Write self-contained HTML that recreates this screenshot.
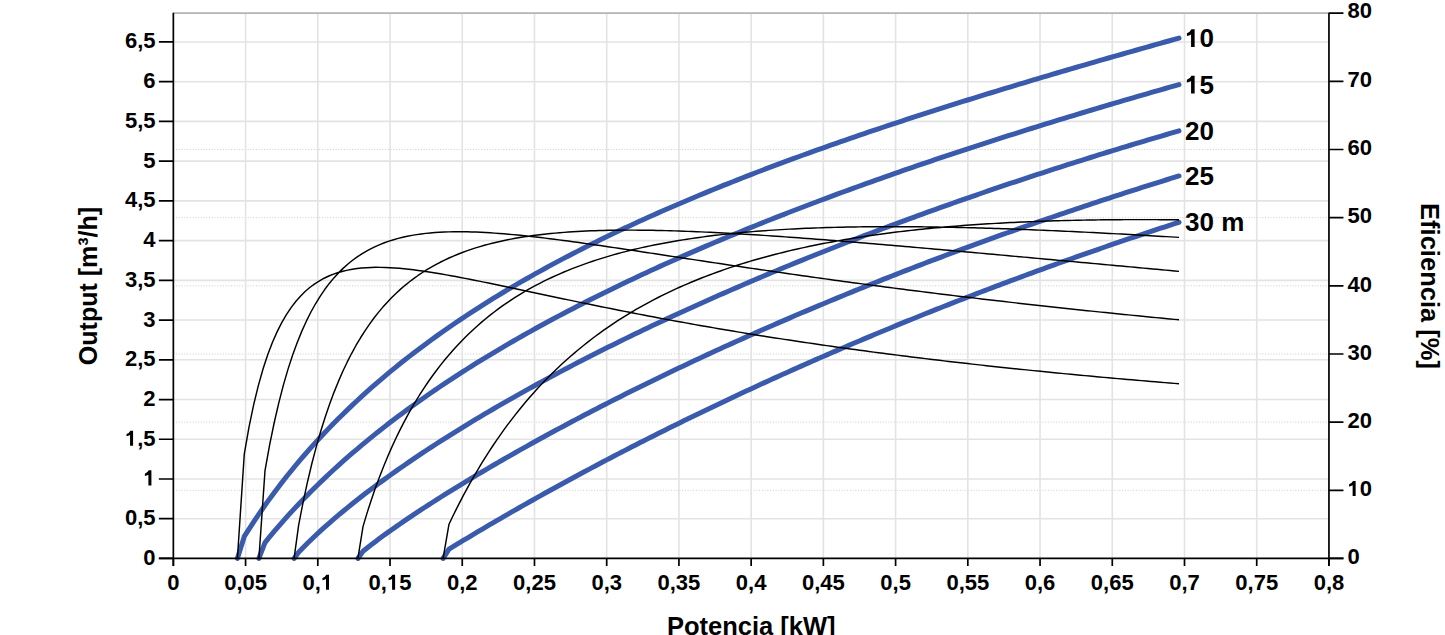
<!DOCTYPE html><html><head><meta charset="utf-8"><title>Chart</title><style>html,body{margin:0;padding:0;background:#fff;overflow:hidden}svg{display:block}</style></head><body>
<svg width="1445" height="635" viewBox="0 0 1445 635" font-family="Liberation Sans, sans-serif" font-weight="bold">
<rect width="1445" height="635" fill="#fff"/>
<path d="M173.35 490.29H1328.95M173.35 422.14H1328.95M173.35 353.98H1328.95M173.35 285.83H1328.95M173.35 217.67H1328.95M173.35 149.51H1328.95M173.35 81.36H1328.95" stroke="#cccccc" stroke-width="1" stroke-dasharray="1 1.75" fill="none"/>
<path d="M245.57 13.20V558.45M317.80 13.20V558.45M390.03 13.20V558.45M462.25 13.20V558.45M534.48 13.20V558.45M606.70 13.20V558.45M678.93 13.20V558.45M751.15 13.20V558.45M823.38 13.20V558.45M895.60 13.20V558.45M967.83 13.20V558.45M1040.05 13.20V558.45M1112.28 13.20V558.45M1184.50 13.20V558.45M1256.72 13.20V558.45" stroke="#e3e3e3" stroke-width="1.6" fill="none"/>
<path d="M173.35 518.72H1328.95M173.35 478.99H1328.95M173.35 439.26H1328.95M173.35 399.53H1328.95M173.35 359.80H1328.95M173.35 320.07H1328.95M173.35 280.34H1328.95M173.35 240.61H1328.95M173.35 200.88H1328.95M173.35 161.15H1328.95M173.35 121.42H1328.95M173.35 81.69H1328.95M173.35 41.96H1328.95" stroke="#e3e3e3" stroke-width="1.6" fill="none"/>
<path d="M173.35 13.20H1328.95" stroke="#b4b4b4" stroke-width="1.8"/>
<path d="M237.40 558.45 L244.30 536.46 L249.00 529.04 L253.69 521.84 L258.39 514.85 L263.09 508.04 L267.78 501.42 L272.48 494.98 L277.18 488.69 L281.88 482.56 L286.57 476.58 L291.27 470.74 L295.97 465.03 L300.66 459.45 L305.36 454.00 L310.06 448.66 L314.75 443.43 L319.45 438.31 L324.15 433.29 L328.85 428.37 L333.54 423.55 L338.24 418.82 L342.94 414.17 L347.63 409.61 L352.33 405.14 L357.03 400.74 L361.72 396.42 L366.42 392.17 L371.12 387.99 L375.82 383.88 L380.51 379.84 L385.21 375.86 L389.91 371.95 L394.60 368.10 L399.30 364.30 L404.00 360.56 L408.69 356.88 L413.39 353.25 L418.09 349.67 L422.79 346.14 L427.48 342.67 L432.18 339.24 L436.88 335.85 L441.57 332.52 L446.27 329.22 L450.97 325.97 L455.66 322.76 L460.36 319.59 L465.06 316.46 L469.76 313.37 L474.45 310.32 L479.15 307.31 L483.85 304.33 L488.54 301.38 L493.24 298.47 L497.94 295.59 L502.63 292.75 L507.33 289.93 L512.03 287.15 L516.73 284.40 L521.42 281.68 L526.12 278.98 L530.82 276.32 L535.51 273.68 L540.21 271.07 L544.91 268.49 L549.60 265.93 L554.30 263.40 L559.00 260.89 L563.69 258.41 L568.39 255.95 L573.09 253.51 L577.79 251.10 L582.48 248.71 L587.18 246.34 L591.88 243.99 L596.57 241.66 L601.27 239.36 L605.97 237.07 L610.66 234.80 L615.36 232.56 L620.06 230.33 L624.76 228.12 L629.45 225.93 L634.15 223.75 L638.85 221.60 L643.54 219.46 L648.24 217.34 L652.94 215.23 L657.63 213.14 L662.33 211.07 L667.03 209.01 L671.73 206.97 L676.42 204.94 L681.12 202.93 L685.82 200.93 L690.51 198.95 L695.21 196.98 L699.91 195.02 L704.60 193.08 L709.30 191.15 L714.00 189.24 L718.70 187.33 L723.39 185.44 L728.09 183.56 L732.79 181.70 L737.48 179.84 L742.18 178.00 L746.88 176.17 L751.57 174.35 L756.27 172.54 L760.97 170.74 L765.67 168.96 L770.36 167.18 L775.06 165.41 L779.76 163.66 L784.45 161.91 L789.15 160.17 L793.85 158.44 L798.54 156.73 L803.24 155.02 L807.94 153.32 L812.64 151.63 L817.33 149.95 L822.03 148.28 L826.73 146.61 L831.42 144.95 L836.12 143.31 L840.82 141.67 L845.51 140.04 L850.21 138.41 L854.91 136.80 L859.61 135.19 L864.30 133.59 L869.00 131.99 L873.70 130.41 L878.39 128.83 L883.09 127.25 L887.79 125.69 L892.48 124.13 L897.18 122.58 L901.88 121.03 L906.57 119.49 L911.27 117.96 L915.97 116.43 L920.67 114.91 L925.36 113.39 L930.06 111.89 L934.76 110.38 L939.45 108.88 L944.15 107.39 L948.85 105.90 L953.54 104.42 L958.24 102.95 L962.94 101.48 L967.64 100.01 L972.33 98.55 L977.03 97.09 L981.73 95.64 L986.42 94.19 L991.12 92.75 L995.82 91.32 L1000.51 89.88 L1005.21 88.45 L1009.91 87.03 L1014.61 85.61 L1019.30 84.20 L1024.00 82.78 L1028.70 81.38 L1033.39 79.97 L1038.09 78.57 L1042.79 77.18 L1047.48 75.79 L1052.18 74.40 L1056.88 73.01 L1061.58 71.63 L1066.27 70.26 L1070.97 68.88 L1075.67 67.51 L1080.36 66.14 L1085.06 64.78 L1089.76 63.42 L1094.45 62.06 L1099.15 60.71 L1103.85 59.35 L1108.55 58.01 L1113.24 56.66 L1117.94 55.32 L1122.64 53.98 L1127.33 52.64 L1132.03 51.30 L1136.73 49.97 L1141.42 48.64 L1146.12 47.32 L1150.82 45.99 L1155.52 44.67 L1160.21 43.35 L1164.91 42.03 L1169.61 40.72 L1174.30 39.40 L1179.00 38.09 M258.90 558.45 L265.00 542.57 L269.59 536.93 L274.19 531.43 L278.78 526.05 L283.37 520.80 L287.96 515.66 L292.56 510.63 L297.15 505.71 L301.74 500.88 L306.34 496.15 L310.93 491.51 L315.52 486.95 L320.12 482.48 L324.71 478.08 L329.30 473.76 L333.89 469.52 L338.49 465.34 L343.08 461.23 L347.67 457.18 L352.27 453.20 L356.86 449.28 L361.45 445.41 L366.05 441.60 L370.64 437.85 L375.23 434.15 L379.82 430.49 L384.42 426.89 L389.01 423.34 L393.60 419.83 L398.20 416.36 L402.79 412.94 L407.38 409.56 L411.97 406.22 L416.57 402.93 L421.16 399.67 L425.75 396.44 L430.35 393.26 L434.94 390.11 L439.53 386.99 L444.13 383.91 L448.72 380.87 L453.31 377.85 L457.90 374.87 L462.50 371.91 L467.09 368.99 L471.68 366.09 L476.28 363.23 L480.87 360.39 L485.46 357.58 L490.06 354.80 L494.65 352.04 L499.24 349.31 L503.83 346.60 L508.43 343.92 L513.02 341.26 L517.61 338.62 L522.21 336.01 L526.80 333.42 L531.39 330.85 L535.98 328.30 L540.58 325.78 L545.17 323.27 L549.76 320.79 L554.36 318.32 L558.95 315.88 L563.54 313.45 L568.14 311.04 L572.73 308.66 L577.32 306.29 L581.91 303.93 L586.51 301.60 L591.10 299.28 L595.69 296.98 L600.29 294.70 L604.88 292.43 L609.47 290.18 L614.07 287.94 L618.66 285.72 L623.25 283.51 L627.84 281.32 L632.44 279.15 L637.03 276.99 L641.62 274.84 L646.22 272.71 L650.81 270.59 L655.40 268.48 L659.99 266.39 L664.59 264.31 L669.18 262.25 L673.77 260.19 L678.37 258.15 L682.96 256.13 L687.55 254.11 L692.15 252.11 L696.74 250.12 L701.33 248.14 L705.92 246.17 L710.52 244.21 L715.11 242.26 L719.70 240.33 L724.30 238.40 L728.89 236.49 L733.48 234.59 L738.08 232.70 L742.67 230.81 L747.26 228.94 L751.85 227.08 L756.45 225.23 L761.04 223.39 L765.63 221.55 L770.23 219.73 L774.82 217.92 L779.41 216.11 L784.01 214.32 L788.60 212.53 L793.19 210.75 L797.78 208.98 L802.38 207.22 L806.97 205.47 L811.56 203.73 L816.16 201.99 L820.75 200.26 L825.34 198.55 L829.93 196.84 L834.53 195.13 L839.12 193.44 L843.71 191.75 L848.31 190.07 L852.90 188.40 L857.49 186.73 L862.09 185.08 L866.68 183.43 L871.27 181.78 L875.86 180.15 L880.46 178.52 L885.05 176.90 L889.64 175.28 L894.24 173.68 L898.83 172.07 L903.42 170.48 L908.02 168.89 L912.61 167.31 L917.20 165.73 L921.79 164.16 L926.39 162.60 L930.98 161.05 L935.57 159.49 L940.17 157.95 L944.76 156.41 L949.35 154.88 L953.94 153.35 L958.54 151.83 L963.13 150.32 L967.72 148.81 L972.32 147.30 L976.91 145.80 L981.50 144.31 L986.10 142.82 L990.69 141.34 L995.28 139.87 L999.87 138.39 L1004.47 136.93 L1009.06 135.47 L1013.65 134.01 L1018.25 132.56 L1022.84 131.11 L1027.43 129.67 L1032.03 128.24 L1036.62 126.80 L1041.21 125.38 L1045.80 123.96 L1050.40 122.54 L1054.99 121.13 L1059.58 119.72 L1064.18 118.31 L1068.77 116.92 L1073.36 115.52 L1077.95 114.13 L1082.55 112.75 L1087.14 111.36 L1091.73 109.99 L1096.33 108.61 L1100.92 107.25 L1105.51 105.88 L1110.11 104.52 L1114.70 103.16 L1119.29 101.81 L1123.88 100.46 L1128.48 99.12 L1133.07 97.78 L1137.66 96.44 L1142.26 95.11 L1146.85 93.78 L1151.44 92.46 L1156.04 91.13 L1160.63 89.82 L1165.22 88.50 L1169.81 87.19 L1174.41 85.89 L1179.00 84.58 M294.10 558.45 L298.60 552.30 L303.02 547.72 L307.45 543.29 L311.87 538.98 L316.30 534.78 L320.72 530.69 L325.14 526.69 L329.57 522.78 L333.99 518.94 L338.42 515.17 L342.84 511.48 L347.27 507.84 L351.69 504.26 L356.11 500.74 L360.54 497.27 L364.96 493.85 L369.39 490.48 L373.81 487.15 L378.23 483.86 L382.66 480.62 L387.08 477.41 L391.51 474.24 L395.93 471.10 L400.35 468.00 L404.78 464.93 L409.20 461.89 L413.63 458.88 L418.05 455.90 L422.48 452.95 L426.90 450.03 L431.32 447.13 L435.75 444.26 L440.17 441.42 L444.60 438.60 L449.02 435.80 L453.44 433.02 L457.87 430.27 L462.29 427.54 L466.72 424.83 L471.14 422.14 L475.56 419.48 L479.99 416.83 L484.41 414.20 L488.84 411.59 L493.26 409.00 L497.69 406.42 L502.11 403.87 L506.53 401.33 L510.96 398.81 L515.38 396.30 L519.81 393.82 L524.23 391.34 L528.65 388.89 L533.08 386.45 L537.50 384.02 L541.93 381.61 L546.35 379.22 L550.77 376.84 L555.20 374.47 L559.62 372.12 L564.05 369.78 L568.47 367.45 L572.90 365.14 L577.32 362.84 L581.74 360.55 L586.17 358.28 L590.59 356.02 L595.02 353.77 L599.44 351.54 L603.86 349.31 L608.29 347.10 L612.71 344.90 L617.14 342.72 L621.56 340.54 L625.98 338.37 L630.41 336.22 L634.83 334.08 L639.26 331.95 L643.68 329.82 L648.11 327.71 L652.53 325.61 L656.95 323.52 L661.38 321.45 L665.80 319.38 L670.23 317.32 L674.65 315.27 L679.07 313.23 L683.50 311.20 L687.92 309.18 L692.35 307.17 L696.77 305.17 L701.19 303.18 L705.62 301.20 L710.04 299.23 L714.47 297.27 L718.89 295.31 L723.32 293.37 L727.74 291.43 L732.16 289.51 L736.59 287.59 L741.01 285.68 L745.44 283.78 L749.86 281.88 L754.28 280.00 L758.71 278.12 L763.13 276.26 L767.56 274.40 L771.98 272.55 L776.41 270.70 L780.83 268.87 L785.25 267.04 L789.68 265.22 L794.10 263.41 L798.53 261.61 L802.95 259.81 L807.37 258.03 L811.80 256.25 L816.22 254.47 L820.65 252.71 L825.07 250.95 L829.49 249.20 L833.92 247.46 L838.34 245.72 L842.77 243.99 L847.19 242.27 L851.62 240.56 L856.04 238.85 L860.46 237.15 L864.89 235.46 L869.31 233.77 L873.74 232.09 L878.16 230.42 L882.58 228.75 L887.01 227.09 L891.43 225.44 L895.86 223.80 L900.28 222.16 L904.70 220.53 L909.13 218.90 L913.55 217.28 L917.98 215.67 L922.40 214.06 L926.83 212.46 L931.25 210.87 L935.67 209.28 L940.10 207.70 L944.52 206.13 L948.95 204.56 L953.37 203.00 L957.79 201.44 L962.22 199.89 L966.64 198.35 L971.07 196.81 L975.49 195.28 L979.91 193.76 L984.34 192.24 L988.76 190.72 L993.19 189.22 L997.61 187.71 L1002.04 186.22 L1006.46 184.73 L1010.88 183.24 L1015.31 181.77 L1019.73 180.29 L1024.16 178.83 L1028.58 177.36 L1033.00 175.91 L1037.43 174.46 L1041.85 173.01 L1046.28 171.58 L1050.70 170.14 L1055.12 168.71 L1059.55 167.29 L1063.97 165.87 L1068.40 164.46 L1072.82 163.06 L1077.25 161.66 L1081.67 160.26 L1086.09 158.87 L1090.52 157.49 L1094.94 156.11 L1099.37 154.73 L1103.79 153.37 L1108.21 152.00 L1112.64 150.64 L1117.06 149.29 L1121.49 147.94 L1125.91 146.60 L1130.33 145.26 L1134.76 143.93 L1139.18 142.60 L1143.61 141.28 L1148.03 139.96 L1152.46 138.65 L1156.88 137.34 L1161.30 136.04 L1165.73 134.74 L1170.15 133.45 L1174.58 132.16 L1179.00 130.88 M357.90 558.45 L363.00 551.29 L367.10 547.99 L371.20 544.79 L375.30 541.66 L379.40 538.60 L383.50 535.59 L387.60 532.63 L391.70 529.72 L395.80 526.84 L399.90 523.99 L404.01 521.18 L408.11 518.40 L412.21 515.64 L416.31 512.91 L420.41 510.21 L424.51 507.53 L428.61 504.87 L432.71 502.23 L436.81 499.61 L440.91 497.01 L445.01 494.44 L449.11 491.87 L453.21 489.33 L457.31 486.80 L461.41 484.29 L465.51 481.80 L469.61 479.32 L473.71 476.86 L477.81 474.41 L481.91 471.98 L486.02 469.56 L490.12 467.15 L494.22 464.76 L498.32 462.38 L502.42 460.01 L506.52 457.66 L510.62 455.32 L514.72 452.99 L518.82 450.67 L522.92 448.36 L527.02 446.07 L531.12 443.79 L535.22 441.52 L539.32 439.26 L543.42 437.01 L547.52 434.77 L551.62 432.54 L555.72 430.32 L559.82 428.11 L563.92 425.92 L568.03 423.73 L572.13 421.55 L576.23 419.39 L580.33 417.23 L584.43 415.08 L588.53 412.94 L592.63 410.81 L596.73 408.69 L600.83 406.58 L604.93 404.48 L609.03 402.39 L613.13 400.30 L617.23 398.23 L621.33 396.16 L625.43 394.10 L629.53 392.05 L633.63 390.01 L637.73 387.98 L641.83 385.95 L645.93 383.94 L650.04 381.93 L654.14 379.93 L658.24 377.94 L662.34 375.95 L666.44 373.98 L670.54 372.01 L674.64 370.05 L678.74 368.09 L682.84 366.15 L686.94 364.21 L691.04 362.28 L695.14 360.36 L699.24 358.44 L703.34 356.53 L707.44 354.63 L711.54 352.74 L715.64 350.85 L719.74 348.97 L723.84 347.10 L727.94 345.24 L732.05 343.38 L736.15 341.53 L740.25 339.68 L744.35 337.85 L748.45 336.02 L752.55 334.19 L756.65 332.37 L760.75 330.56 L764.85 328.76 L768.95 326.96 L773.05 325.17 L777.15 323.39 L781.25 321.61 L785.35 319.84 L789.45 318.08 L793.55 316.32 L797.65 314.57 L801.75 312.82 L805.85 311.08 L809.95 309.35 L814.06 307.62 L818.16 305.90 L822.26 304.19 L826.36 302.48 L830.46 300.78 L834.56 299.08 L838.66 297.39 L842.76 295.71 L846.86 294.03 L850.96 292.36 L855.06 290.69 L859.16 289.03 L863.26 287.38 L867.36 285.73 L871.46 284.09 L875.56 282.45 L879.66 280.82 L883.76 279.20 L887.86 277.58 L891.96 275.96 L896.07 274.36 L900.17 272.75 L904.27 271.16 L908.37 269.57 L912.47 267.98 L916.57 266.40 L920.67 264.83 L924.77 263.26 L928.87 261.69 L932.97 260.14 L937.07 258.58 L941.17 257.04 L945.27 255.49 L949.37 253.96 L953.47 252.43 L957.57 250.90 L961.67 249.38 L965.77 247.87 L969.87 246.36 L973.97 244.85 L978.08 243.35 L982.18 241.86 L986.28 240.37 L990.38 238.88 L994.48 237.41 L998.58 235.93 L1002.68 234.46 L1006.78 233.00 L1010.88 231.54 L1014.98 230.09 L1019.08 228.64 L1023.18 227.20 L1027.28 225.76 L1031.38 224.33 L1035.48 222.90 L1039.58 221.48 L1043.68 220.06 L1047.78 218.65 L1051.88 217.24 L1055.98 215.83 L1060.09 214.44 L1064.19 213.04 L1068.29 211.65 L1072.39 210.27 L1076.49 208.89 L1080.59 207.52 L1084.69 206.15 L1088.79 204.78 L1092.89 203.42 L1096.99 202.07 L1101.09 200.72 L1105.19 199.37 L1109.29 198.03 L1113.39 196.69 L1117.49 195.36 L1121.59 194.03 L1125.69 192.71 L1129.79 191.39 L1133.89 190.08 L1137.99 188.77 L1142.10 187.47 L1146.20 186.17 L1150.30 184.87 L1154.40 183.58 L1158.50 182.30 L1162.60 181.02 L1166.70 179.74 L1170.80 178.47 L1174.90 177.20 L1179.00 175.94 M443.10 558.45 L449.00 549.14 L452.67 546.90 L456.34 544.66 L460.01 542.44 L463.67 540.22 L467.34 538.02 L471.01 535.82 L474.68 533.63 L478.35 531.45 L482.02 529.28 L485.68 527.11 L489.35 524.96 L493.02 522.81 L496.69 520.67 L500.36 518.54 L504.03 516.41 L507.69 514.30 L511.36 512.19 L515.03 510.09 L518.70 507.99 L522.37 505.91 L526.04 503.83 L529.70 501.76 L533.37 499.70 L537.04 497.64 L540.71 495.59 L544.38 493.55 L548.05 491.51 L551.71 489.49 L555.38 487.47 L559.05 485.45 L562.72 483.45 L566.39 481.45 L570.06 479.46 L573.72 477.47 L577.39 475.49 L581.06 473.52 L584.73 471.55 L588.40 469.59 L592.07 467.64 L595.73 465.69 L599.40 463.75 L603.07 461.82 L606.74 459.89 L610.41 457.97 L614.08 456.06 L617.74 454.15 L621.41 452.25 L625.08 450.36 L628.75 448.47 L632.42 446.58 L636.09 444.71 L639.75 442.84 L643.42 440.97 L647.09 439.11 L650.76 437.26 L654.43 435.41 L658.10 433.57 L661.76 431.74 L665.43 429.91 L669.10 428.09 L672.77 426.27 L676.44 424.46 L680.11 422.65 L683.77 420.85 L687.44 419.06 L691.11 417.27 L694.78 415.48 L698.45 413.71 L702.12 411.93 L705.78 410.17 L709.45 408.41 L713.12 406.65 L716.79 404.90 L720.46 403.16 L724.13 401.42 L727.79 399.68 L731.46 397.96 L735.13 396.23 L738.80 394.52 L742.47 392.80 L746.14 391.10 L749.80 389.39 L753.47 387.70 L757.14 386.01 L760.81 384.32 L764.48 382.64 L768.15 380.97 L771.81 379.29 L775.48 377.63 L779.15 375.97 L782.82 374.31 L786.49 372.66 L790.16 371.02 L793.82 369.38 L797.49 367.74 L801.16 366.11 L804.83 364.49 L808.50 362.87 L812.17 361.25 L815.83 359.64 L819.50 358.04 L823.17 356.44 L826.84 354.84 L830.51 353.25 L834.18 351.67 L837.84 350.09 L841.51 348.51 L845.18 346.94 L848.85 345.37 L852.52 343.81 L856.19 342.25 L859.85 340.70 L863.52 339.15 L867.19 337.61 L870.86 336.07 L874.53 334.54 L878.20 333.01 L881.86 331.48 L885.53 329.96 L889.20 328.45 L892.87 326.94 L896.54 325.43 L900.21 323.93 L903.87 322.43 L907.54 320.94 L911.21 319.45 L914.88 317.97 L918.55 316.49 L922.22 315.02 L925.88 313.55 L929.55 312.08 L933.22 310.62 L936.89 309.16 L940.56 307.71 L944.23 306.27 L947.89 304.82 L951.56 303.38 L955.23 301.95 L958.90 300.52 L962.57 299.09 L966.24 297.67 L969.90 296.25 L973.57 294.84 L977.24 293.43 L980.91 292.03 L984.58 290.63 L988.25 289.23 L991.91 287.84 L995.58 286.45 L999.25 285.07 L1002.92 283.69 L1006.59 282.31 L1010.26 280.94 L1013.92 279.58 L1017.59 278.22 L1021.26 276.86 L1024.93 275.50 L1028.60 274.15 L1032.27 272.81 L1035.93 271.47 L1039.60 270.13 L1043.27 268.79 L1046.94 267.47 L1050.61 266.14 L1054.28 264.82 L1057.94 263.50 L1061.61 262.19 L1065.28 260.88 L1068.95 259.57 L1072.62 258.27 L1076.29 256.98 L1079.95 255.68 L1083.62 254.39 L1087.29 253.11 L1090.96 251.83 L1094.63 250.55 L1098.30 249.28 L1101.96 248.01 L1105.63 246.74 L1109.30 245.48 L1112.97 244.22 L1116.64 242.97 L1120.31 241.72 L1123.97 240.48 L1127.64 239.23 L1131.31 238.00 L1134.98 236.76 L1138.65 235.53 L1142.32 234.30 L1145.98 233.08 L1149.65 231.86 L1153.32 230.65 L1156.99 229.44 L1160.66 228.23 L1164.33 227.03 L1167.99 225.83 L1171.66 224.63 L1175.33 223.44 L1179.00 222.25" stroke="#3a5aab" stroke-width="5" fill="none" stroke-linecap="round" stroke-linejoin="round"/>
<path d="M237.40 558.45 L244.30 453.79 L249.00 427.19 L253.69 404.61 L258.39 385.34 L263.09 368.80 L267.78 354.57 L272.48 342.27 L277.18 331.61 L281.88 322.36 L286.57 314.32 L291.27 307.32 L295.97 301.23 L300.66 295.92 L305.36 291.30 L310.06 287.29 L314.75 283.82 L319.45 280.81 L324.15 278.23 L328.85 276.01 L333.54 274.13 L338.24 272.54 L342.94 271.21 L347.63 270.12 L352.33 269.24 L357.03 268.55 L361.72 268.03 L366.42 267.67 L371.12 267.44 L375.82 267.34 L380.51 267.36 L385.21 267.47 L389.91 267.68 L394.60 267.97 L399.30 268.34 L404.00 268.77 L408.69 269.27 L413.39 269.83 L418.09 270.43 L422.79 271.08 L427.48 271.77 L432.18 272.50 L436.88 273.26 L441.57 274.05 L446.27 274.87 L450.97 275.72 L455.66 276.58 L460.36 277.47 L465.06 278.37 L469.76 279.29 L474.45 280.22 L479.15 281.16 L483.85 282.12 L488.54 283.08 L493.24 284.05 L497.94 285.03 L502.63 286.01 L507.33 287.00 L512.03 287.99 L516.73 288.99 L521.42 289.98 L526.12 290.98 L530.82 291.98 L535.51 292.97 L540.21 293.97 L544.91 294.97 L549.60 295.96 L554.30 296.95 L559.00 297.94 L563.69 298.93 L568.39 299.91 L573.09 300.89 L577.79 301.87 L582.48 302.84 L587.18 303.81 L591.88 304.77 L596.57 305.73 L601.27 306.69 L605.97 307.63 L610.66 308.58 L615.36 309.52 L620.06 310.45 L624.76 311.38 L629.45 312.30 L634.15 313.22 L638.85 314.13 L643.54 315.03 L648.24 315.93 L652.94 316.83 L657.63 317.71 L662.33 318.59 L667.03 319.47 L671.73 320.34 L676.42 321.20 L681.12 322.06 L685.82 322.91 L690.51 323.75 L695.21 324.59 L699.91 325.42 L704.60 326.25 L709.30 327.07 L714.00 327.88 L718.70 328.69 L723.39 329.49 L728.09 330.29 L732.79 331.07 L737.48 331.86 L742.18 332.63 L746.88 333.41 L751.57 334.17 L756.27 334.93 L760.97 335.68 L765.67 336.43 L770.36 337.17 L775.06 337.91 L779.76 338.64 L784.45 339.36 L789.15 340.08 L793.85 340.80 L798.54 341.50 L803.24 342.21 L807.94 342.90 L812.64 343.59 L817.33 344.28 L822.03 344.96 L826.73 345.63 L831.42 346.30 L836.12 346.97 L840.82 347.63 L845.51 348.28 L850.21 348.93 L854.91 349.57 L859.61 350.21 L864.30 350.84 L869.00 351.47 L873.70 352.10 L878.39 352.71 L883.09 353.33 L887.79 353.94 L892.48 354.54 L897.18 355.14 L901.88 355.73 L906.57 356.32 L911.27 356.91 L915.97 357.49 L920.67 358.06 L925.36 358.63 L930.06 359.20 L934.76 359.76 L939.45 360.32 L944.15 360.88 L948.85 361.42 L953.54 361.97 L958.24 362.51 L962.94 363.05 L967.64 363.58 L972.33 364.11 L977.03 364.63 L981.73 365.15 L986.42 365.67 L991.12 366.18 L995.82 366.69 L1000.51 367.19 L1005.21 367.69 L1009.91 368.19 L1014.61 368.68 L1019.30 369.17 L1024.00 369.65 L1028.70 370.14 L1033.39 370.61 L1038.09 371.09 L1042.79 371.56 L1047.48 372.02 L1052.18 372.49 L1056.88 372.95 L1061.58 373.40 L1066.27 373.86 L1070.97 374.30 L1075.67 374.75 L1080.36 375.19 L1085.06 375.63 L1089.76 376.07 L1094.45 376.50 L1099.15 376.93 L1103.85 377.35 L1108.55 377.78 L1113.24 378.20 L1117.94 378.61 L1122.64 379.03 L1127.33 379.44 L1132.03 379.84 L1136.73 380.25 L1141.42 380.65 L1146.12 381.05 L1150.82 381.44 L1155.52 381.83 L1160.21 382.22 L1164.91 382.61 L1169.61 382.99 L1174.30 383.37 L1179.00 383.75 M258.90 558.45 L265.00 470.71 L269.59 445.22 L274.19 422.73 L278.78 402.83 L283.37 385.14 L287.96 369.38 L292.56 355.30 L297.15 342.69 L301.74 331.37 L306.34 321.19 L310.93 312.02 L315.52 303.76 L320.12 296.29 L324.71 289.54 L329.30 283.43 L333.89 277.90 L338.49 272.89 L343.08 268.36 L347.67 264.25 L352.27 260.53 L356.86 257.16 L361.45 254.11 L366.05 251.35 L370.64 248.86 L375.23 246.62 L379.82 244.60 L384.42 242.78 L389.01 241.15 L393.60 239.70 L398.20 238.41 L402.79 237.27 L407.38 236.26 L411.97 235.37 L416.57 234.61 L421.16 233.95 L425.75 233.39 L430.35 232.92 L434.94 232.54 L439.53 232.24 L444.13 232.01 L448.72 231.85 L453.31 231.75 L457.90 231.71 L462.50 231.73 L467.09 231.80 L471.68 231.91 L476.28 232.07 L480.87 232.27 L485.46 232.51 L490.06 232.79 L494.65 233.10 L499.24 233.43 L503.83 233.80 L508.43 234.20 L513.02 234.62 L517.61 235.06 L522.21 235.52 L526.80 236.01 L531.39 236.51 L535.98 237.03 L540.58 237.57 L545.17 238.12 L549.76 238.69 L554.36 239.27 L558.95 239.86 L563.54 240.46 L568.14 241.07 L572.73 241.69 L577.32 242.32 L581.91 242.96 L586.51 243.60 L591.10 244.26 L595.69 244.91 L600.29 245.58 L604.88 246.25 L609.47 246.92 L614.07 247.60 L618.66 248.28 L623.25 248.96 L627.84 249.65 L632.44 250.34 L637.03 251.03 L641.62 251.72 L646.22 252.42 L650.81 253.11 L655.40 253.81 L659.99 254.51 L664.59 255.21 L669.18 255.91 L673.77 256.61 L678.37 257.31 L682.96 258.00 L687.55 258.70 L692.15 259.40 L696.74 260.10 L701.33 260.79 L705.92 261.49 L710.52 262.18 L715.11 262.88 L719.70 263.57 L724.30 264.26 L728.89 264.94 L733.48 265.63 L738.08 266.32 L742.67 267.00 L747.26 267.68 L751.85 268.36 L756.45 269.03 L761.04 269.71 L765.63 270.38 L770.23 271.05 L774.82 271.72 L779.41 272.38 L784.01 273.04 L788.60 273.70 L793.19 274.36 L797.78 275.02 L802.38 275.67 L806.97 276.32 L811.56 276.97 L816.16 277.61 L820.75 278.25 L825.34 278.89 L829.93 279.53 L834.53 280.16 L839.12 280.79 L843.71 281.42 L848.31 282.04 L852.90 282.66 L857.49 283.28 L862.09 283.90 L866.68 284.51 L871.27 285.12 L875.86 285.73 L880.46 286.34 L885.05 286.94 L889.64 287.54 L894.24 288.13 L898.83 288.73 L903.42 289.32 L908.02 289.91 L912.61 290.49 L917.20 291.07 L921.79 291.65 L926.39 292.23 L930.98 292.80 L935.57 293.37 L940.17 293.94 L944.76 294.50 L949.35 295.07 L953.94 295.63 L958.54 296.18 L963.13 296.74 L967.72 297.29 L972.32 297.84 L976.91 298.38 L981.50 298.92 L986.10 299.46 L990.69 300.00 L995.28 300.53 L999.87 301.07 L1004.47 301.59 L1009.06 302.12 L1013.65 302.64 L1018.25 303.16 L1022.84 303.68 L1027.43 304.20 L1032.03 304.71 L1036.62 305.22 L1041.21 305.73 L1045.80 306.23 L1050.40 306.74 L1054.99 307.24 L1059.58 307.73 L1064.18 308.23 L1068.77 308.72 L1073.36 309.21 L1077.95 309.70 L1082.55 310.18 L1087.14 310.66 L1091.73 311.14 L1096.33 311.62 L1100.92 312.10 L1105.51 312.57 L1110.11 313.04 L1114.70 313.51 L1119.29 313.97 L1123.88 314.44 L1128.48 314.90 L1133.07 315.35 L1137.66 315.81 L1142.26 316.26 L1146.85 316.72 L1151.44 317.16 L1156.04 317.61 L1160.63 318.06 L1165.22 318.50 L1169.81 318.94 L1174.41 319.38 L1179.00 319.81 M294.10 558.45 L298.60 525.30 L303.02 502.59 L307.45 482.09 L311.87 463.53 L316.30 446.65 L320.72 431.25 L325.14 417.17 L329.57 404.24 L333.99 392.36 L338.42 381.41 L342.84 371.30 L347.27 361.95 L351.69 353.28 L356.11 345.24 L360.54 337.76 L364.96 330.81 L369.39 324.32 L373.81 318.27 L378.23 312.63 L382.66 307.35 L387.08 302.41 L391.51 297.78 L395.93 293.45 L400.35 289.38 L404.78 285.57 L409.20 281.99 L413.63 278.63 L418.05 275.47 L422.48 272.50 L426.90 269.70 L431.32 267.07 L435.75 264.60 L440.17 262.27 L444.60 260.08 L449.02 258.01 L453.44 256.07 L457.87 254.24 L462.29 252.52 L466.72 250.89 L471.14 249.37 L475.56 247.93 L479.99 246.58 L484.41 245.31 L488.84 244.11 L493.26 242.99 L497.69 241.93 L502.11 240.95 L506.53 240.02 L510.96 239.15 L515.38 238.33 L519.81 237.57 L524.23 236.86 L528.65 236.20 L533.08 235.58 L537.50 235.00 L541.93 234.47 L546.35 233.98 L550.77 233.52 L555.20 233.10 L559.62 232.71 L564.05 232.36 L568.47 232.04 L572.90 231.74 L577.32 231.48 L581.74 231.24 L586.17 231.03 L590.59 230.84 L595.02 230.68 L599.44 230.54 L603.86 230.42 L608.29 230.33 L612.71 230.25 L617.14 230.19 L621.56 230.15 L625.98 230.13 L630.41 230.13 L634.83 230.14 L639.26 230.17 L643.68 230.21 L648.11 230.27 L652.53 230.34 L656.95 230.42 L661.38 230.52 L665.80 230.63 L670.23 230.75 L674.65 230.88 L679.07 231.03 L683.50 231.18 L687.92 231.35 L692.35 231.52 L696.77 231.70 L701.19 231.89 L705.62 232.10 L710.04 232.30 L714.47 232.52 L718.89 232.75 L723.32 232.98 L727.74 233.22 L732.16 233.46 L736.59 233.72 L741.01 233.98 L745.44 234.24 L749.86 234.51 L754.28 234.79 L758.71 235.07 L763.13 235.36 L767.56 235.65 L771.98 235.95 L776.41 236.25 L780.83 236.56 L785.25 236.87 L789.68 237.19 L794.10 237.51 L798.53 237.83 L802.95 238.16 L807.37 238.49 L811.80 238.82 L816.22 239.16 L820.65 239.50 L825.07 239.84 L829.49 240.19 L833.92 240.54 L838.34 240.89 L842.77 241.25 L847.19 241.61 L851.62 241.97 L856.04 242.33 L860.46 242.69 L864.89 243.06 L869.31 243.43 L873.74 243.80 L878.16 244.17 L882.58 244.55 L887.01 244.92 L891.43 245.30 L895.86 245.68 L900.28 246.06 L904.70 246.45 L909.13 246.83 L913.55 247.21 L917.98 247.60 L922.40 247.99 L926.83 248.38 L931.25 248.77 L935.67 249.16 L940.10 249.55 L944.52 249.95 L948.95 250.34 L953.37 250.74 L957.79 251.13 L962.22 251.53 L966.64 251.93 L971.07 252.33 L975.49 252.73 L979.91 253.13 L984.34 253.53 L988.76 253.93 L993.19 254.33 L997.61 254.73 L1002.04 255.13 L1006.46 255.54 L1010.88 255.94 L1015.31 256.35 L1019.73 256.75 L1024.16 257.15 L1028.58 257.56 L1033.00 257.96 L1037.43 258.37 L1041.85 258.77 L1046.28 259.18 L1050.70 259.59 L1055.12 259.99 L1059.55 260.40 L1063.97 260.81 L1068.40 261.21 L1072.82 261.62 L1077.25 262.02 L1081.67 262.43 L1086.09 262.84 L1090.52 263.24 L1094.94 263.65 L1099.37 264.06 L1103.79 264.46 L1108.21 264.87 L1112.64 265.28 L1117.06 265.68 L1121.49 266.09 L1125.91 266.49 L1130.33 266.90 L1134.76 267.31 L1139.18 267.71 L1143.61 268.12 L1148.03 268.52 L1152.46 268.93 L1156.88 269.33 L1161.30 269.74 L1165.73 270.14 L1170.15 270.54 L1174.58 270.95 L1179.00 271.35 M357.90 558.45 L363.00 526.59 L367.10 512.88 L371.20 500.16 L375.30 488.28 L379.40 477.13 L383.50 466.65 L387.60 456.74 L391.70 447.38 L395.80 438.50 L399.90 430.07 L404.01 422.06 L408.11 414.44 L412.21 407.18 L416.31 400.25 L420.41 393.63 L424.51 387.31 L428.61 381.27 L432.71 375.48 L436.81 369.95 L440.91 364.64 L445.01 359.55 L449.11 354.67 L453.21 349.98 L457.31 345.48 L461.41 341.16 L465.51 337.01 L469.61 333.01 L473.71 329.16 L477.81 325.46 L481.91 321.90 L486.02 318.47 L490.12 315.17 L494.22 311.98 L498.32 308.91 L502.42 305.95 L506.52 303.09 L510.62 300.34 L514.72 297.68 L518.82 295.11 L522.92 292.63 L527.02 290.24 L531.12 287.93 L535.22 285.70 L539.32 283.54 L543.42 281.46 L547.52 279.44 L551.62 277.50 L555.72 275.61 L559.82 273.79 L563.92 272.03 L568.03 270.33 L572.13 268.69 L576.23 267.10 L580.33 265.56 L584.43 264.07 L588.53 262.63 L592.63 261.23 L596.73 259.88 L600.83 258.58 L604.93 257.32 L609.03 256.10 L613.13 254.92 L617.23 253.77 L621.33 252.67 L625.43 251.60 L629.53 250.57 L633.63 249.56 L637.73 248.60 L641.83 247.66 L645.93 246.76 L650.04 245.88 L654.14 245.04 L658.24 244.22 L662.34 243.43 L666.44 242.67 L670.54 241.93 L674.64 241.22 L678.74 240.53 L682.84 239.86 L686.94 239.22 L691.04 238.60 L695.14 238.01 L699.24 237.43 L703.34 236.88 L707.44 236.34 L711.54 235.83 L715.64 235.33 L719.74 234.85 L723.84 234.39 L727.94 233.95 L732.05 233.52 L736.15 233.11 L740.25 232.72 L744.35 232.34 L748.45 231.98 L752.55 231.64 L756.65 231.30 L760.75 230.99 L764.85 230.68 L768.95 230.39 L773.05 230.12 L777.15 229.85 L781.25 229.60 L785.35 229.36 L789.45 229.13 L793.55 228.92 L797.65 228.72 L801.75 228.52 L805.85 228.34 L809.95 228.17 L814.06 228.01 L818.16 227.86 L822.26 227.72 L826.36 227.59 L830.46 227.47 L834.56 227.35 L838.66 227.25 L842.76 227.16 L846.86 227.07 L850.96 226.99 L855.06 226.92 L859.16 226.86 L863.26 226.81 L867.36 226.76 L871.46 226.73 L875.56 226.70 L879.66 226.67 L883.76 226.66 L887.86 226.65 L891.96 226.65 L896.07 226.65 L900.17 226.66 L904.27 226.68 L908.37 226.70 L912.47 226.73 L916.57 226.77 L920.67 226.81 L924.77 226.86 L928.87 226.91 L932.97 226.97 L937.07 227.03 L941.17 227.10 L945.27 227.18 L949.37 227.26 L953.47 227.34 L957.57 227.43 L961.67 227.52 L965.77 227.62 L969.87 227.73 L973.97 227.83 L978.08 227.94 L982.18 228.06 L986.28 228.18 L990.38 228.31 L994.48 228.44 L998.58 228.57 L1002.68 228.70 L1006.78 228.84 L1010.88 228.99 L1014.98 229.14 L1019.08 229.29 L1023.18 229.44 L1027.28 229.60 L1031.38 229.76 L1035.48 229.93 L1039.58 230.10 L1043.68 230.27 L1047.78 230.44 L1051.88 230.62 L1055.98 230.80 L1060.09 230.99 L1064.19 231.17 L1068.29 231.36 L1072.39 231.56 L1076.49 231.75 L1080.59 231.95 L1084.69 232.15 L1088.79 232.35 L1092.89 232.56 L1096.99 232.77 L1101.09 232.98 L1105.19 233.19 L1109.29 233.41 L1113.39 233.62 L1117.49 233.85 L1121.59 234.07 L1125.69 234.29 L1129.79 234.52 L1133.89 234.75 L1137.99 234.98 L1142.10 235.21 L1146.20 235.45 L1150.30 235.68 L1154.40 235.92 L1158.50 236.16 L1162.60 236.41 L1166.70 236.65 L1170.80 236.90 L1174.90 237.15 L1179.00 237.40 M443.10 558.45 L449.00 524.24 L452.67 516.55 L456.34 509.10 L460.01 501.88 L463.67 494.86 L467.34 488.05 L471.01 481.44 L474.68 475.02 L478.35 468.78 L482.02 462.72 L485.68 456.82 L489.35 451.09 L493.02 445.52 L496.69 440.10 L500.36 434.82 L504.03 429.68 L507.69 424.69 L511.36 419.82 L515.03 415.08 L518.70 410.46 L522.37 405.97 L526.04 401.58 L529.70 397.31 L533.37 393.15 L537.04 389.09 L540.71 385.13 L544.38 381.27 L548.05 377.51 L551.71 373.84 L555.38 370.25 L559.05 366.76 L562.72 363.34 L566.39 360.01 L570.06 356.76 L573.72 353.58 L577.39 350.48 L581.06 347.45 L584.73 344.49 L588.40 341.60 L592.07 338.78 L595.73 336.02 L599.40 333.32 L603.07 330.69 L606.74 328.11 L610.41 325.60 L614.08 323.14 L617.74 320.73 L621.41 318.38 L625.08 316.08 L628.75 313.83 L632.42 311.63 L636.09 309.48 L639.75 307.37 L643.42 305.31 L647.09 303.30 L650.76 301.33 L654.43 299.40 L658.10 297.52 L661.76 295.67 L665.43 293.86 L669.10 292.10 L672.77 290.37 L676.44 288.67 L680.11 287.02 L683.77 285.40 L687.44 283.81 L691.11 282.26 L694.78 280.73 L698.45 279.25 L702.12 277.79 L705.78 276.36 L709.45 274.97 L713.12 273.60 L716.79 272.26 L720.46 270.95 L724.13 269.67 L727.79 268.41 L731.46 267.18 L735.13 265.97 L738.80 264.80 L742.47 263.64 L746.14 262.51 L749.80 261.40 L753.47 260.32 L757.14 259.26 L760.81 258.22 L764.48 257.20 L768.15 256.21 L771.81 255.23 L775.48 254.28 L779.15 253.35 L782.82 252.43 L786.49 251.54 L790.16 250.66 L793.82 249.80 L797.49 248.96 L801.16 248.14 L804.83 247.34 L808.50 246.55 L812.17 245.78 L815.83 245.03 L819.50 244.29 L823.17 243.57 L826.84 242.87 L830.51 242.18 L834.18 241.50 L837.84 240.84 L841.51 240.20 L845.18 239.56 L848.85 238.95 L852.52 238.34 L856.19 237.75 L859.85 237.18 L863.52 236.61 L867.19 236.06 L870.86 235.52 L874.53 235.00 L878.20 234.48 L881.86 233.98 L885.53 233.49 L889.20 233.01 L892.87 232.55 L896.54 232.09 L900.21 231.64 L903.87 231.21 L907.54 230.79 L911.21 230.37 L914.88 229.97 L918.55 229.58 L922.22 229.19 L925.88 228.82 L929.55 228.46 L933.22 228.10 L936.89 227.76 L940.56 227.42 L944.23 227.09 L947.89 226.78 L951.56 226.47 L955.23 226.16 L958.90 225.87 L962.57 225.59 L966.24 225.31 L969.90 225.04 L973.57 224.78 L977.24 224.53 L980.91 224.29 L984.58 224.05 L988.25 223.82 L991.91 223.60 L995.58 223.38 L999.25 223.17 L1002.92 222.97 L1006.59 222.78 L1010.26 222.59 L1013.92 222.41 L1017.59 222.24 L1021.26 222.07 L1024.93 221.91 L1028.60 221.75 L1032.27 221.60 L1035.93 221.46 L1039.60 221.32 L1043.27 221.19 L1046.94 221.07 L1050.61 220.95 L1054.28 220.83 L1057.94 220.73 L1061.61 220.62 L1065.28 220.53 L1068.95 220.43 L1072.62 220.35 L1076.29 220.27 L1079.95 220.19 L1083.62 220.12 L1087.29 220.05 L1090.96 219.99 L1094.63 219.94 L1098.30 219.88 L1101.96 219.84 L1105.63 219.79 L1109.30 219.76 L1112.97 219.72 L1116.64 219.69 L1120.31 219.67 L1123.97 219.65 L1127.64 219.63 L1131.31 219.62 L1134.98 219.62 L1138.65 219.61 L1142.32 219.61 L1145.98 219.62 L1149.65 219.63 L1153.32 219.64 L1156.99 219.65 L1160.66 219.67 L1164.33 219.70 L1167.99 219.73 L1171.66 219.76 L1175.33 219.79 L1179.00 219.83" stroke="#000" stroke-width="1.45" fill="none" stroke-linejoin="round"/>
<path d="M173.35 12.70V565.95 M1328.95 12.70V565.95 M158.85 558.45H1343.45" stroke="#000" stroke-width="1.7" fill="none"/>
<path d="M158.85 558.45H173.35M158.85 518.72H173.35M158.85 478.99H173.35M158.85 439.26H173.35M158.85 399.53H173.35M158.85 359.80H173.35M158.85 320.07H173.35M158.85 280.34H173.35M158.85 240.61H173.35M158.85 200.88H173.35M158.85 161.15H173.35M158.85 121.42H173.35M158.85 81.69H173.35M158.85 41.96H173.35M1328.95 558.45H1343.45M1328.95 490.29H1343.45M1328.95 422.14H1343.45M1328.95 353.98H1343.45M1328.95 285.83H1343.45M1328.95 217.67H1343.45M1328.95 149.51H1343.45M1328.95 81.36H1343.45M1328.95 13.20H1343.45M173.35 558.45V565.95M245.57 558.45V565.95M317.80 558.45V565.95M390.03 558.45V565.95M462.25 558.45V565.95M534.48 558.45V565.95M606.70 558.45V565.95M678.93 558.45V565.95M751.15 558.45V565.95M823.38 558.45V565.95M895.60 558.45V565.95M967.83 558.45V565.95M1040.05 558.45V565.95M1112.28 558.45V565.95M1184.50 558.45V565.95M1256.72 558.45V565.95M1328.95 558.45V565.95" stroke="#000" stroke-width="1.7" fill="none"/>
<text x="143.26" y="564.95" font-size="22">0</text>
<text x="124.92 137.15 143.26" y="525.22" font-size="22">0,5</text>
<path transform="translate(143.26 485.49) scale(0.01074 -0.01074)" d="M759 0L478 0L478 1000Q330 900 150 880L150 1095Q380 1160 510 1409L759 1409Z"/>
<text x="137.15 143.26" y="445.76" font-size="22">,5</text><path transform="translate(124.92 445.76) scale(0.01074 -0.01074)" d="M759 0L478 0L478 1000Q330 900 150 880L150 1095Q380 1160 510 1409L759 1409Z"/>
<text x="143.26" y="406.03" font-size="22">2</text>
<text x="124.92 137.15 143.26" y="366.30" font-size="22">2,5</text>
<text x="143.26" y="326.57" font-size="22">3</text>
<text x="124.92 137.15 143.26" y="286.84" font-size="22">3,5</text>
<text x="143.26" y="247.11" font-size="22">4</text>
<text x="124.92 137.15 143.26" y="207.38" font-size="22">4,5</text>
<text x="143.26" y="167.65" font-size="22">5</text>
<text x="124.92 137.15 143.26" y="127.92" font-size="22">5,5</text>
<text x="143.26" y="88.19" font-size="22">6</text>
<text x="124.92 137.15 143.26" y="48.46" font-size="22">6,5</text>
<text x="1347.50" y="564.25" font-size="22">0</text>
<text x="1359.74" y="496.09" font-size="22">0</text><path transform="translate(1347.50 496.09) scale(0.01074 -0.01074)" d="M759 0L478 0L478 1000Q330 900 150 880L150 1095Q380 1160 510 1409L759 1409Z"/>
<text x="1347.50 1359.74" y="427.94" font-size="22">20</text>
<text x="1347.50 1359.74" y="359.78" font-size="22">30</text>
<text x="1347.50 1359.74" y="291.63" font-size="22">40</text>
<text x="1347.50 1359.74" y="223.47" font-size="22">50</text>
<text x="1347.50 1359.74" y="155.31" font-size="22">60</text>
<text x="1347.50 1359.74" y="87.16" font-size="22">70</text>
<text x="1347.50 1359.74" y="17.70" font-size="22">80</text>
<text x="167.23" y="589.80" font-size="22">0</text>
<text x="224.17 236.40 242.51 254.75" y="589.80" font-size="22">0,05</text>
<text x="302.51 314.74" y="589.80" font-size="22">0,</text><path transform="translate(320.86 589.80) scale(0.01074 -0.01074)" d="M759 0L478 0L478 1000Q330 900 150 880L150 1095Q380 1160 510 1409L759 1409Z"/>
<text x="368.62 380.85 399.20" y="589.80" font-size="22">0,5</text><path transform="translate(386.96 589.80) scale(0.01074 -0.01074)" d="M759 0L478 0L478 1000Q330 900 150 880L150 1095Q380 1160 510 1409L759 1409Z"/>
<text x="446.96 459.19 465.31" y="589.80" font-size="22">0,2</text>
<text x="513.07 525.30 531.41 543.65" y="589.80" font-size="22">0,25</text>
<text x="591.41 603.64 609.76" y="589.80" font-size="22">0,3</text>
<text x="657.52 669.75 675.86 688.10" y="589.80" font-size="22">0,35</text>
<text x="735.86 748.09 754.21" y="589.80" font-size="22">0,4</text>
<text x="801.97 814.20 820.31 832.55" y="589.80" font-size="22">0,45</text>
<text x="880.31 892.54 898.66" y="589.80" font-size="22">0,5</text>
<text x="946.42 958.65 964.76 977.00" y="589.80" font-size="22">0,55</text>
<text x="1024.76 1036.99 1043.11" y="589.80" font-size="22">0,6</text>
<text x="1090.87 1103.10 1109.21 1121.45" y="589.80" font-size="22">0,65</text>
<text x="1169.21 1181.44 1187.56" y="589.80" font-size="22">0,7</text>
<text x="1235.32 1247.55 1253.66 1265.90" y="589.80" font-size="22">0,75</text>
<text x="1313.66 1325.89 1332.01" y="589.80" font-size="22">0,8</text>
<text x="1199.46" y="47.09" font-size="26">0</text><path transform="translate(1185.00 47.09) scale(0.01270 -0.01270)" d="M759 0L478 0L478 1000Q330 900 150 880L150 1095Q380 1160 510 1409L759 1409Z"/>
<text x="1199.46" y="93.58" font-size="26">5</text><path transform="translate(1185.00 93.58) scale(0.01270 -0.01270)" d="M759 0L478 0L478 1000Q330 900 150 880L150 1095Q380 1160 510 1409L759 1409Z"/>
<text x="1185.00 1199.46" y="139.88" font-size="26">20</text>
<text x="1185.00 1199.46" y="184.94" font-size="26">25</text>
<text x="1185.00 1199.46 1221.14" y="231.25" font-size="26">30m</text>
<text x="751.30" y="635.00" font-size="25.5" text-anchor="middle">Potencia [kW]</text>
<text transform="translate(97.00 286.00) rotate(-90)" font-size="25" text-anchor="middle">Output [m³/h]</text>
<text transform="translate(1421.00 286.00) rotate(90)" font-size="25.5" text-anchor="middle">Eficiencia [%]</text>
</svg></body></html>
